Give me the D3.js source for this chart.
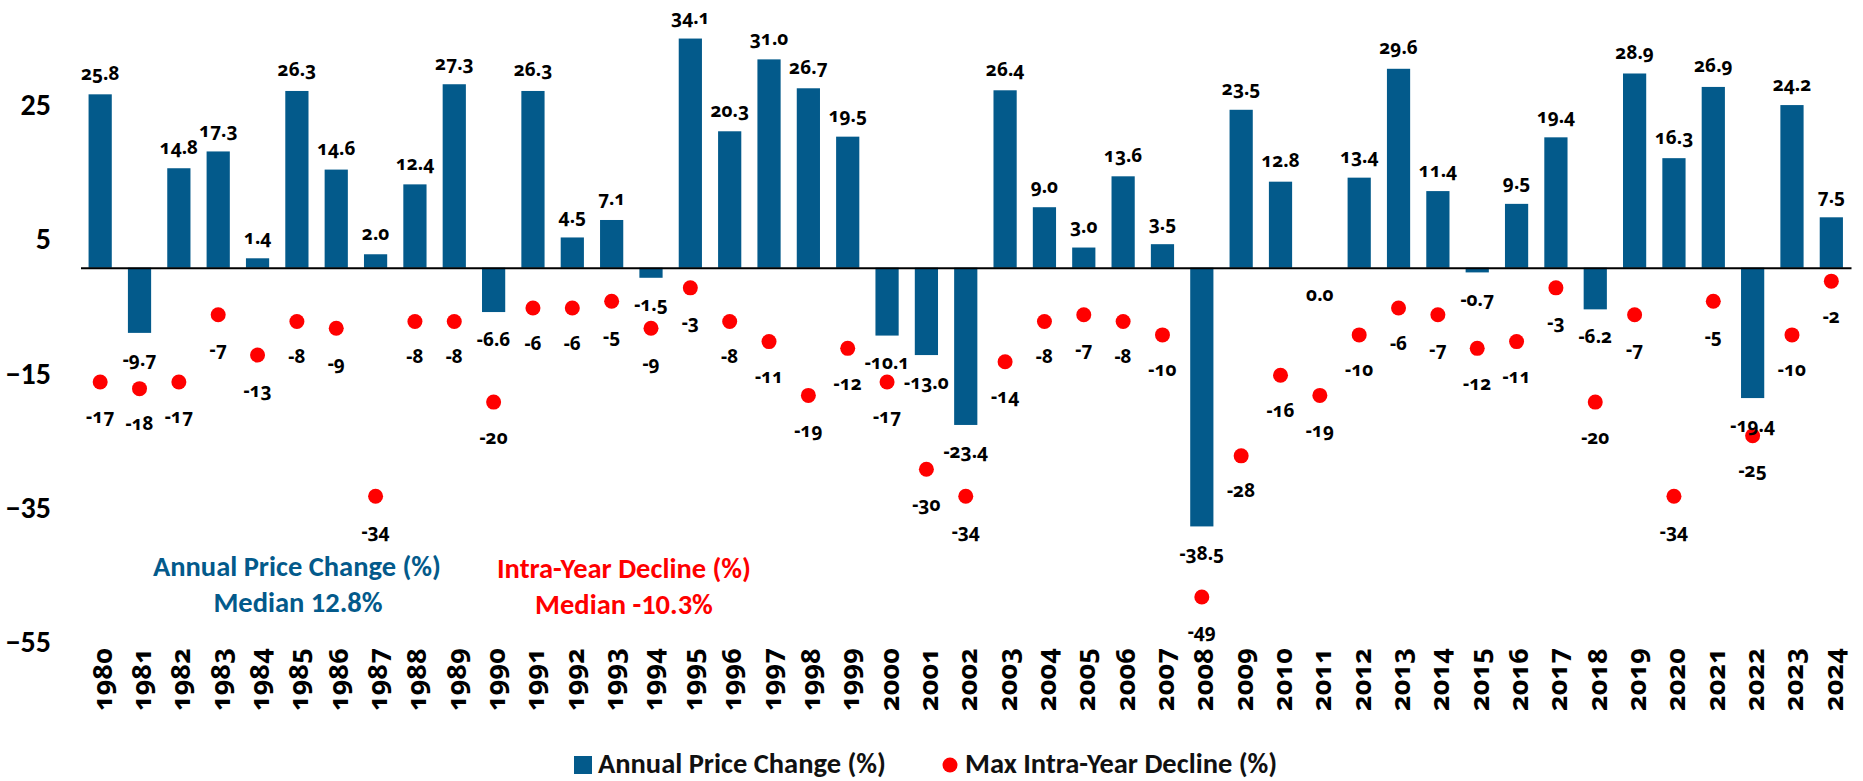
<!DOCTYPE html>
<html>
<head>
<meta charset="utf-8">
<script src="https://cdnjs.cloudflare.com/ajax/libs/d3/7.8.5/d3.min.js"></script>
<style>
  body { margin: 0; background: #fff; position: relative; }
  svg { display: block; }
  svg text { font-family: Carlito, Lato, sans-serif; font-weight: bold; }
  .lbl {
    position: absolute; left: 0; top: 0;
    transform-origin: 0 0;
    white-space: nowrap;
    line-height: 1;
    font-family: "Noto Sans", "Open Sans", sans-serif;
    font-weight: bold;
    color: #000;
    font-variant-numeric: oldstyle-nums;
    font-feature-settings: "onum" 1;
  }
</style>
</head>
<body>
<script>
var years = ["1980","1981","1982","1983","1984","1985","1986","1987","1988","1989",
             "1990","1991","1992","1993","1994","1995","1996","1997","1998","1999",
             "2000","2001","2002","2003","2004","2005","2006","2007","2008","2009",
             "2010","2011","2012","2013","2014","2015","2016","2017","2018","2019",
             "2020","2021","2022","2023","2024"];
var annualChange = [25.8, -9.7, 14.8, 17.3, 1.4, 26.3, 14.6, 2.0, 12.4, 27.3,
                    -6.6, 26.3, 4.5, 7.1, -1.5, 34.1, 20.3, 31.0, 26.7, 19.5,
                    -10.1, -13.0, -23.4, 26.4, 9.0, 3.0, 13.6, 3.5, -38.5, 23.5,
                    12.8, 0.0, 13.4, 29.6, 11.4, -0.7, 9.5, 19.4, -6.2, 28.9,
                    16.3, 26.9, -19.4, 24.2, 7.5];
var intraYearDecline = [-17, -18, -17, -7, -13, -8, -9, -34, -8, -8,
                        -20, -6, -6, -5, -9, -3, -8, -11, -19, -12,
                        -17, -30, -34, -14, -8, -7, -8, -10, -49, -28,
                        -16, -19, -10, -6, -7, -12, -11, -3, -20, -7,
                        -34, -5, -25, -10, -2];
var yTicks = [-55, -35, -15, 5, 25];

var W = 1863, H = 781;
var blue = "#035a8b", red = "#ff0000";

var svg = d3.select("body").append("svg")
  .attr("width", W).attr("height", H);

// html layer for the labels with old-style figures
var overlay = d3.select("body").append("div")
  .style("position", "absolute")
  .style("left", "0px").style("top", "0px")
  .style("width", W + "px").style("height", H + "px");

var x = d3.scaleBand()
  .domain(years)
  .range([80.5, 1851])
  .paddingInner(0.41)
  .paddingOuter(0.205);

var y = d3.scaleLinear()
  .domain([-55, 35])
  .range([637.3, 32.5]);

var cx = function(d) { return x(d.year) + x.bandwidth() / 2; };

var data = years.map(function(yr, i) {
  return { year: yr, change: annualChange[i], decline: intraYearDecline[i] };
});

// y axis labels (no line, no ticks)
var yAxis = d3.axisLeft(y).tickValues(yTicks).tickSize(0).tickPadding(0);
var gy = svg.append("g")
  .attr("transform", "translate(51,5)")
  .call(yAxis);
gy.select(".domain").remove();
gy.selectAll("text")
  .style("font-family", "Carlito, Lato, sans-serif")
  .style("font-weight", "bold")
  .style("font-size", "30px")
  .attr("fill", "#000");

// bars
svg.append("g").selectAll("rect")
  .data(data)
  .enter()
  .append("rect")
  .attr("x", function(d) { return x(d.year); })
  .attr("width", x.bandwidth())
  .attr("y", function(d) { return y(Math.max(0, d.change)); })
  .attr("height", function(d) { return Math.abs(y(d.change) - y(0)); })
  .attr("fill", blue);

// zero line
var xAxis = d3.axisBottom(x).tickSize(0).tickFormat("");
svg.append("g")
  .attr("transform", "translate(0," + y(0) + ")")
  .call(xAxis)
  .select(".domain")
  .attr("stroke", "#000")
  .attr("stroke-width", 2);

// dots
svg.append("g").selectAll("circle")
  .data(data)
  .enter()
  .append("circle")
  .attr("cx", cx)
  .attr("cy", function(d) { return y(d.decline); })
  .attr("r", 7.5)
  .attr("fill", red);

// bar labels
overlay.selectAll("div.bar-lbl")
  .data(data)
  .enter()
  .append("div")
  .attr("class", "lbl bar-lbl")
  .style("font-size", "19px")
  .style("transform", function(d) {
    var ty = d.change > 0 ? y(d.change) - 21 : y(d.change) + 27;
    return "translate(" + cx(d) + "px," + ty + "px) translate(-50%,-50%)";
  })
  .text(function(d) { return d3.format(".1f")(d.change).replace("−", "-"); });

// dot labels
overlay.selectAll("div.dot-lbl")
  .data(data)
  .enter()
  .append("div")
  .attr("class", "lbl dot-lbl")
  .style("font-size", "19px")
  .style("transform", function(d) {
    return "translate(" + cx(d) + "px," + (y(d.decline) + 35) + "px) translate(-50%,-50%)";
  })
  .text(function(d) { return String(d.decline); });

// year labels, reading upwards
overlay.selectAll("div.yr-lbl")
  .data(data)
  .enter()
  .append("div")
  .attr("class", "lbl yr-lbl")
  .style("font-size", "27px")
  .style("transform", function(d) {
    return "translate(" + (cx(d) + 1) + "px,648px) rotate(-90deg) translate(-100%,-50%)";
  })
  .text(function(d) { return d.year; });

// annotations
var notes = svg.append("g").style("font-size", "28.5px");
notes.append("text").attr("x", 297).attr("y", 576).attr("text-anchor", "middle")
  .attr("fill", blue).text("Annual Price Change (%)");
notes.append("text").attr("x", 298).attr("y", 612).attr("text-anchor", "middle")
  .attr("fill", blue).text("Median 12.8%");
notes.append("text").attr("x", 624).attr("y", 578).attr("text-anchor", "middle")
  .attr("fill", red).text("Intra-Year Decline (%)");
notes.append("text").attr("x", 624).attr("y", 614).attr("text-anchor", "middle")
  .attr("fill", red).text("Median -10.3%");

// legend
var legend = svg.append("g").style("font-size", "28.5px");
legend.append("rect").attr("x", 574).attr("y", 756).attr("width", 18).attr("height", 18).attr("fill", blue);
legend.append("text").attr("x", 598).attr("y", 773).attr("fill", "#111").text("Annual Price Change (%)");
legend.append("circle").attr("cx", 950).attr("cy", 765).attr("r", 7.5).attr("fill", red);
legend.append("text").attr("x", 965).attr("y", 773).attr("fill", "#111").text("Max Intra-Year Decline (%)");
</script>
</body>
</html>
